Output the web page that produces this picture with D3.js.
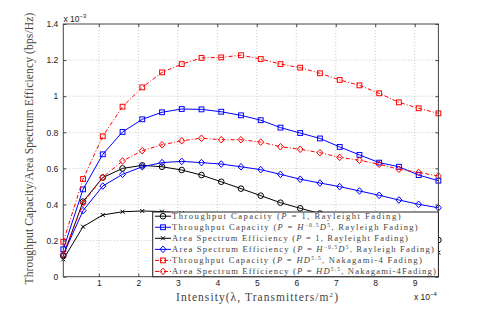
<!DOCTYPE html>
<html>
<head>
<meta charset="utf-8">
<script src="https://cdn.jsdelivr.net/npm/d3@7"></script>
<style>
  body { margin: 0; background: #fff; }
  svg { display: block; }
</style>
</head>
<body>
<div id="chart"></div>
<script>
// intensity values (x 10^-4)
const intensity = [0.1, 0.6, 1.1, 1.6, 2.1, 2.6, 3.1, 3.6, 4.1, 4.6, 5.1, 5.6, 6.1, 6.6, 7.1, 7.6, 8.1, 8.6, 9.1, 9.6];

// series values (x 10^-3)
const tcRayleighUnit = [0.115, 0.416, 0.549, 0.600, 0.617, 0.609, 0.591, 0.563, 0.526, 0.488, 0.449, 0.410, 0.379, 0.350, 0.323, 0.297, 0.271, 0.247, 0.224, 0.203];
const tcRayleighPower = [0.152, 0.484, 0.678, 0.802, 0.872, 0.911, 0.929, 0.927, 0.914, 0.894, 0.867, 0.826, 0.796, 0.766, 0.719, 0.675, 0.632, 0.609, 0.563, 0.532];
const aseRayleighUnit = [0.096, 0.277, 0.342, 0.360, 0.364, 0.361, 0.352, 0.340, 0.322, 0.302, 0.281, 0.260, 0.240, 0.222, 0.205, 0.189, 0.174, 0.160, 0.146, 0.133];
const aseRayleighPower = [0.122, 0.366, 0.502, 0.567, 0.609, 0.632, 0.639, 0.632, 0.624, 0.609, 0.593, 0.567, 0.540, 0.519, 0.499, 0.475, 0.451, 0.425, 0.401, 0.382];
const tcNakagami = [0.194, 0.541, 0.778, 0.942, 1.049, 1.132, 1.178, 1.212, 1.215, 1.227, 1.206, 1.178, 1.158, 1.127, 1.090, 1.060, 1.016, 0.966, 0.933, 0.905];
const aseNakagami = [0.124, 0.407, 0.551, 0.641, 0.698, 0.731, 0.753, 0.767, 0.759, 0.759, 0.746, 0.720, 0.706, 0.687, 0.661, 0.645, 0.623, 0.595, 0.578, 0.558];

const xTicks = [1, 2, 3, 4, 5, 6, 7, 8, 9];
const yTicks = [0, 0.2, 0.4, 0.6, 0.8, 1, 1.2, 1.4];

// legend labels: [text, italic?, superscript?] pieces
const legendLabels = [
  [["Throughput Capacity ("], ["P", "i"], [" = 1, Rayleight Fading)"]],
  [["Throughput Capacity ("], ["P", "i"], [" = "], ["H", "i"], ["\u22120.5", "s"], ["D", "i"], ["5", "s"], [", Rayleigh Fading)"]],
  [["Area Spectrum Efficiency ("], ["P", "i"], [" = 1, Rayleight Fading)"]],
  [["Area Spectrum Efficiency ("], ["P", "i"], [" = "], ["H", "i"], ["\u22120.5", "s"], ["D", "i"], ["5", "s"], [", Rayleigh Fading)"]],
  [["Throughput Capacity ("], ["P", "i"], [" = "], ["HD", "i"], ["5.5", "s"], [", Nakagami-4 Fading)"]],
  [["Area Spectrum Efficiency ("], ["P", "i"], [" = "], ["HD", "i"], ["5.5", "s"], [", Nakagami-4Fading)"]],
];
const legendWidths = [230, 247, 237, 263, 251, 265];

const series = [
  { values: tcRayleighUnit, color: "#000", marker: "circle", dash: null },
  { values: tcRayleighPower, color: "#0000ff", marker: "square", dash: null },
  { values: aseRayleighUnit, color: "#000", marker: "cross", dash: null },
  { values: aseRayleighPower, color: "#0000ff", marker: "diamond", dash: null },
  { values: tcNakagami, color: "#ff0000", marker: "square", dash: "4,2,1,2" },
  { values: aseNakagami, color: "#ff0000", marker: "diamond", dash: "4,2,1,2" },
];

const width = 485;
const height = 312;
const plotLeft = 63.3, plotRight = 438.4, plotTop = 24, plotBottom = 276.7;

const svg = d3.select("#chart").append("svg")
  .attr("width", width)
  .attr("height", height);

const x = d3.scaleLinear().domain([0.1, 9.6]).range([plotLeft, plotRight]);
const y = d3.scaleLinear().domain([0, 1.4]).range([plotBottom, plotTop]);

// grid
svg.append("g")
  .selectAll("line")
  .data(xTicks)
  .enter()
  .append("line")
  .attr("x1", (d) => x(d)).attr("x2", (d) => x(d))
  .attr("y1", plotTop).attr("y2", plotBottom)
  .style("stroke", "#bbb").style("stroke-width", 0.8).style("stroke-dasharray", "1,2");
svg.append("g")
  .selectAll("line")
  .data(yTicks.slice(1, -1))
  .enter()
  .append("line")
  .attr("x1", plotLeft).attr("x2", plotRight)
  .attr("y1", (d) => y(d)).attr("y2", (d) => y(d))
  .style("stroke", "#bbb").style("stroke-width", 0.8).style("stroke-dasharray", "1,2");

// axes, MATLAB style ticks pointing inward
function styleAxis(g) {
  g.select(".domain").remove();
  g.selectAll(".tick line").style("stroke", "#444");
  g.selectAll(".tick text")
    .style("font-family", "Liberation Sans, Arial, sans-serif")
    .style("font-size", "8.5px")
    .style("fill", "#222");
}
svg.append("g").attr("transform", `translate(0,${plotBottom})`)
  .call(d3.axisBottom(x).tickValues(xTicks).tickSize(-3).tickPadding(3.5).tickFormat(d3.format("d")))
  .call(styleAxis);
svg.append("g").attr("transform", `translate(0,${plotTop})`)
  .call(d3.axisTop(x).tickValues(xTicks).tickSize(-3).tickFormat(""))
  .call(styleAxis);
svg.append("g").attr("transform", `translate(${plotLeft},0)`)
  .call(d3.axisLeft(y).tickValues(yTicks).tickSize(-3).tickPadding(5).tickFormat((d) => (d === 0 || d === 1 ? d : d3.format(".1f")(d))))
  .call(styleAxis);
svg.append("g").attr("transform", `translate(${plotRight},0)`)
  .call(d3.axisRight(y).tickValues(yTicks).tickSize(-3).tickFormat(""))
  .call(styleAxis);

// lines and markers
const line = d3.line().x((d, i) => x(intensity[i])).y((d) => y(d));

function drawMarker(g, type, color) {
  if (type === "circle") {
    g.append("circle").attr("r", 2.8);
  } else if (type === "square") {
    g.append("rect").attr("x", -2.4).attr("y", -2.4).attr("width", 4.8).attr("height", 4.8);
  } else if (type === "diamond") {
    g.append("path").attr("d", "M0,-3.3L3,0L0,3.3L-3,0Z");
  } else if (type === "cross") {
    g.append("path").attr("d", "M-2,-2L2,2M-2,2L2,-2");
  }
  g.selectAll("*").style("fill", "none").style("stroke", color).style("stroke-width", 1);
}

series.forEach((s) => {
  svg.append("path")
    .datum(s.values)
    .attr("d", line)
    .style("fill", "none")
    .style("stroke", s.color)
    .style("stroke-width", 1)
    .style("stroke-dasharray", s.dash);
  svg.append("g")
    .selectAll("g")
    .data(s.values)
    .enter()
    .append("g")
    .attr("transform", (d, i) => `translate(${x(intensity[i])},${y(d)})`)
    .each(function () { drawMarker(d3.select(this), s.marker, s.color); });
});

// box
svg.append("rect")
  .attr("x", plotLeft).attr("y", plotTop)
  .attr("width", plotRight - plotLeft).attr("height", plotBottom - plotTop)
  .style("fill", "none").style("stroke", "#444").style("stroke-width", 1);

// spread a text so it fills the measured width of the picture
function fitText(textSel, target) {
  const node = textSel.node();
  const n = node.textContent.length;
  const w = node.getComputedTextLength();
  textSel.attr("letter-spacing", (target - w) / n);
}

// legend
const legX = 152.7, legY = 212;
const legend = svg.append("g");
legend.append("rect")
  .attr("x", legX).attr("y", legY).attr("width", plotRight - legX).attr("height", plotBottom - legY)
  .style("fill", "#fff").style("stroke", "#222").style("stroke-width", 1);

legendLabels.forEach((parts, k) => {
  const cy = 216.2 + k * 11.05;
  const s = series[k];
  legend.append("line")
    .attr("x1", 155).attr("x2", 171).attr("y1", cy).attr("y2", cy)
    .style("stroke", s.color).style("stroke-width", 1).style("stroke-dasharray", s.dash);
  drawMarker(legend.append("g").attr("transform", `translate(163,${cy})`), s.marker, s.color);

  const t = legend.append("text")
    .attr("x", 172).attr("y", cy + 2.8)
    .style("font-family", "Liberation Serif, serif")
    .style("font-size", "8.6px")
    .style("fill", "#444");
  let raised = false;
  parts.forEach((p) => {
    const ts = t.append("tspan").text(p[0]);
    if (p[1] === "i") ts.style("font-style", "italic");
    if (p[1] === "s") {
      ts.style("font-size", "5.5px").attr("dy", -3);
      raised = true;
    } else if (raised) {
      ts.attr("dy", 3);
      raised = false;
    }
  });
  fitText(t, legendWidths[k]);
});

// axis labels
const yLabel = svg.append("text")
  .attr("transform", "translate(33,148.5) rotate(-90)")
  .attr("text-anchor", "middle")
  .style("font-family", "Liberation Serif, serif")
  .style("font-size", "11.5px")
  .style("fill", "#444")
  .text("Throughput Capacity/Area Spectrum Efficiency (bps/Hz)");
fitText(yLabel, 272);

const xLabel = svg.append("text")
  .attr("x", 176).attr("y", 300.5)
  .style("font-family", "Liberation Serif, serif")
  .style("font-size", "11.5px")
  .style("fill", "#444");
xLabel.append("tspan").text("Intensity(\u03bb, Transmitters/m");
xLabel.append("tspan").text("2").style("font-size", "7px").attr("dy", -4);
xLabel.append("tspan").text(")").attr("dy", 4);
fitText(xLabel, 163);

// exponent labels
function exponent(xPos, yPos, power) {
  const t = svg.append("text")
    .attr("x", xPos).attr("y", yPos)
    .style("font-family", "Liberation Sans, Arial, sans-serif")
    .style("font-size", "8.5px")
    .style("fill", "#222");
  t.append("tspan").text("x 10");
  t.append("tspan").text(power).style("font-size", "6px").attr("dy", -4);
}
exponent(63.5, 21.5, "\u22123");
exponent(414, 300, "\u22124");
</script>
</body>
</html>
